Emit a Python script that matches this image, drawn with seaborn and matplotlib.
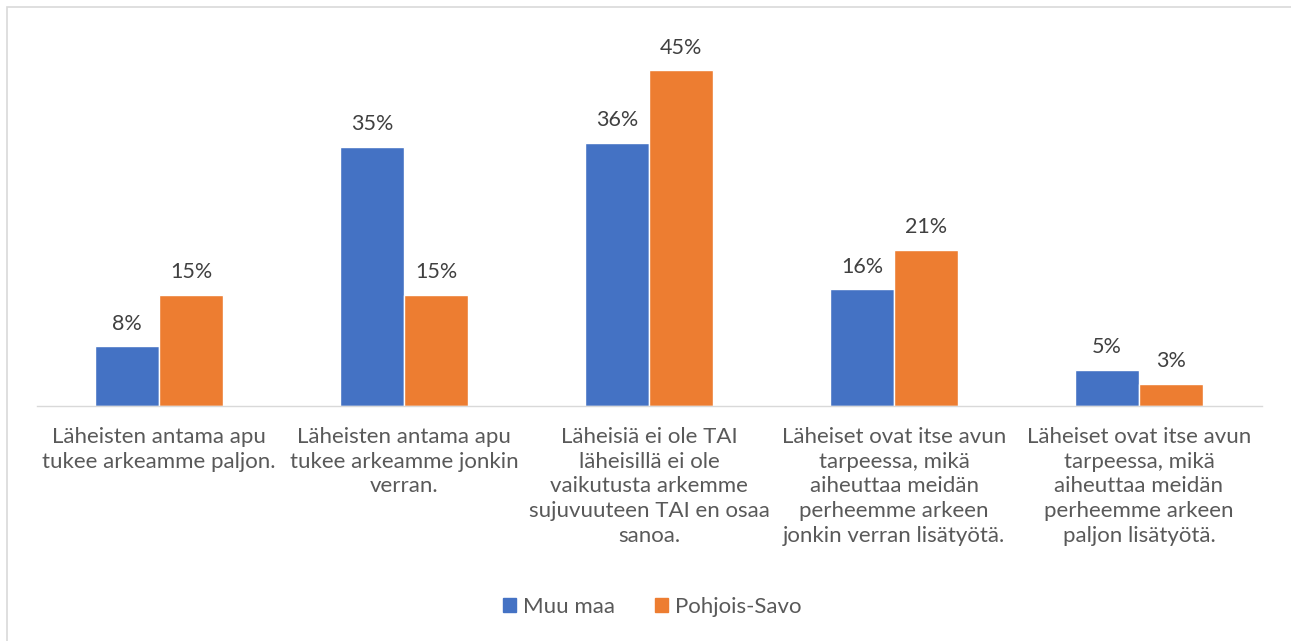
import pandas as pd
import seaborn as sns
import matplotlib.pyplot as plt
from matplotlib.patches import Rectangle

# Chart data
categories = [
    'Läheisten antama apu\ntukee arkeamme paljon.',
    'Läheisten antama apu\ntukee arkeamme jonkin\nverran.',
    'Läheisiä ei ole TAI\nläheisillä ei ole\nvaikutusta arkemme\nsujuvuuteen TAI en osaa\nsanoa.',
    'Läheiset ovat itse avun\ntarpeessa, mikä\naiheuttaa meidän\nperheemme arkeen\njonkin verran lisätyötä.',
    'Läheiset ovat itse avun\ntarpeessa, mikä\naiheuttaa meidän\nperheemme arkeen\npaljon lisätyötä.',
]
muu_maa = [8.1, 35.0, 35.6, 15.8, 4.9]
pohjois_savo = [15.0, 15.0, 45.4, 21.1, 3.0]
series = ['Muu maa', 'Pohjois-Savo']
colors = ['#4472C4', '#ED7D31']

df = pd.DataFrame({
    'Kategoria': categories * 2,
    'Arvo': muu_maa + pohjois_savo,
    'Alue': [series[0]] * len(categories) + [series[1]] * len(categories),
})

sns.set_theme(style='white')
plt.rcParams['font.family'] = ['Lato', 'DejaVu Sans']

W, H = 1291, 641
fig = plt.figure(figsize=(W / 100, H / 100), dpi=100)
ax = fig.add_axes([36.5 / W, (H - 406) / H, 1225 / W, 370 / H])

sns.barplot(data=df, x='Kategoria', y='Arvo', hue='Alue', palette=colors,
            width=0.522, saturation=1, ax=ax, legend=False)

for container in ax.containers:
    ax.bar_label(container, labels=[f'{v:.0f}%' for v in container.datavalues],
                 padding=9, fontsize=15.5, color='#404040')

ax.set_ylim(0, 50)
ax.set_xlim(-0.5, len(categories) - 0.5)
ax.set_yticks([])
ax.set_xlabel('')
ax.set_ylabel('')
for side in ['top', 'left', 'right']:
    ax.spines[side].set_visible(False)
ax.spines['bottom'].set_color('#D9D9D9')
ax.spines['bottom'].set_linewidth(1)
ax.tick_params(axis='x', length=0, pad=15, labelsize=16, labelcolor='#595959')
for lbl in ax.get_xticklabels():
    lbl.set_verticalalignment('top')
    lbl.set_linespacing(1.3)

# Legend at the bottom
handles = [Rectangle((0, 0), 1, 1, color=c) for c in colors]
fig.legend(handles, series, loc='center', bbox_to_anchor=(0.505, (H - 607) / H),
           ncol=2, frameon=False, fontsize=16, handlelength=0.6, handleheight=0.6,
           handletextpad=0.3, columnspacing=1.8, labelcolor='#595959')

# Chart border (only left/top visible in the crop)
fig.add_artist(Rectangle((7 / W, -0.1), 1.2, (H - 7) / H + 0.1, transform=fig.transFigure,
                         fill=False, edgecolor='#D9D9D9', linewidth=1.2))

fig.savefig('out.png', dpi=100)
